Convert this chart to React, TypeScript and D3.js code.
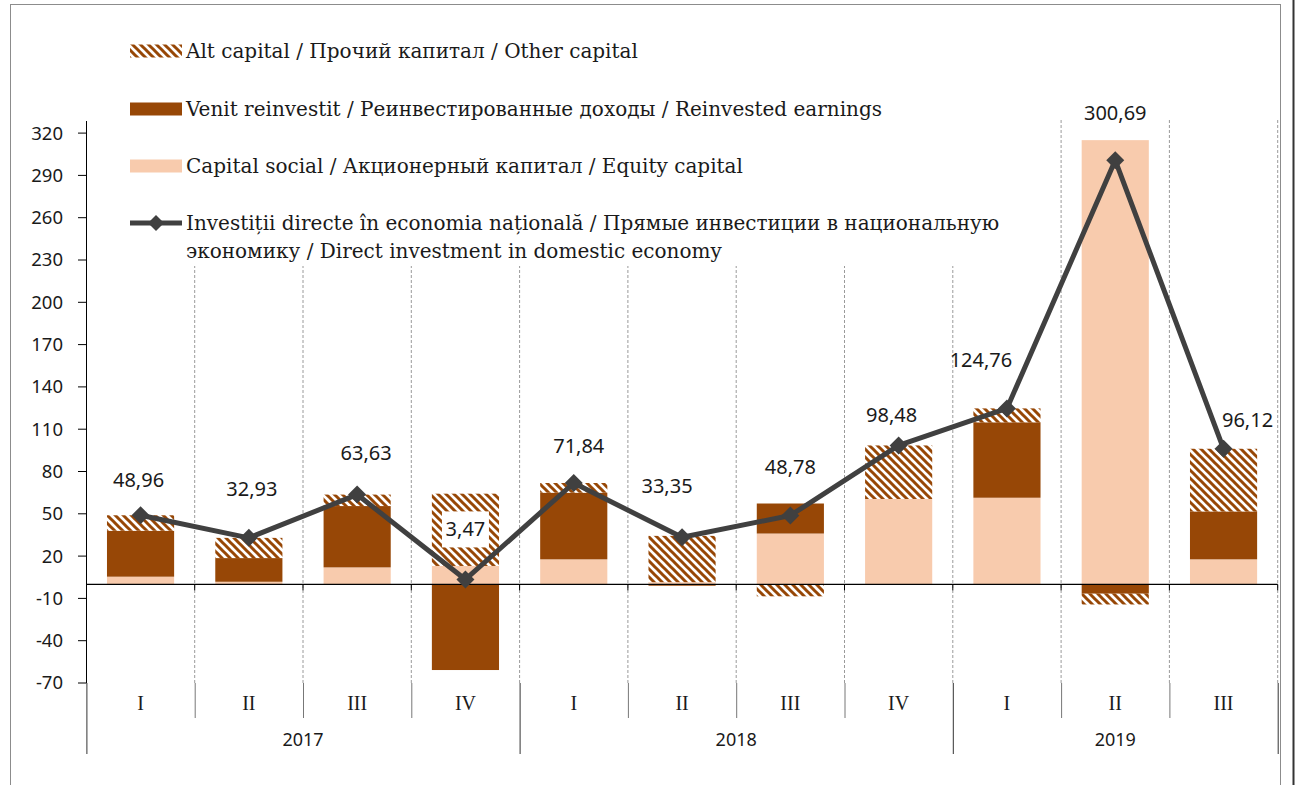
import React from 'react'
import * as d3 from 'd3'

// quarters on the category axis, grouped by year
const quarters = ['I', 'II', 'III', 'IV', 'I', 'II', 'III', 'IV', 'I', 'II', 'III']
const years = ['2017', '2018', '2019']
const quartersPerYear = [4, 4, 3]

// components, mil. USD
const equityCapital = [5.4, 1.8, 12.0, 13.0, 17.7, 1.5, 36.0, 60.5, 61.4, 315.0, 17.7]
const reinvestedEarnings = [32.6, 16.8, 43.5, -60.8, 47.3, -1.0, 21.3, 0, 53.5, -6.7, 34.0]
const otherCapital = [10.96, 14.33, 8.13, 51.27, 6.84, 32.85, -8.52, 37.98, 9.86, -7.61, 44.42]
const directInvestment = [48.96, 32.93, 63.63, 3.47, 71.84, 33.35, 48.78, 98.48, 124.76, 300.69, 96.12]

const yTicks = [-70, -40, -10, 20, 50, 80, 110, 140, 170, 200, 230, 260, 290, 320]

// label nudges relative to the marker (hand placed in the original)
const labelDx = [-2, 3, 9, 0, 5, -15, 0, -7, -26, 0, 24]
const labelDy = [-35, -49, -42, -50, -37, -51, -49, -30, -48, -47, -29]

const W = 1295
const H = 785
const PEACH = '#F8CBAD'
const BROWN = '#974706'
const LINE = '#404040'
const SANS = '"Noto Sans", "Open Sans", sans-serif'
const SERIF = '"DejaVu Serif", "Liberation Serif", serif'

const fmt = d3.formatLocale({ decimal: ',', thousands: ' ', grouping: [3], currency: ['', ''] }).format('.2f')

export default function App() {
  const x = d3
    .scaleBand<number>()
    .domain(d3.range(quarters.length))
    .range([86.4, 1277.7])
    .paddingInner(0.38)
    .paddingOuter(0.19)
  const y = d3.scaleLinear().domain([-70, 330]).range([683, 119])
  const step = x.step()
  const x0 = x.range()[0]
  const x1 = x.range()[1]

  const rows = quarters.map((q, i) => ({
    equity: equityCapital[i],
    reinvested: reinvestedEarnings[i],
    other: otherCapital[i],
  }))
  const series = d3
    .stack<any>()
    .keys(['equity', 'reinvested', 'other'])
    .offset(d3.stackOffsetDiverging)(rows)
  const fills: Record<string, string> = { equity: PEACH, reinvested: BROWN, other: 'url(#hatch)' }

  const cx = (i: number) => (x(i) as number) + x.bandwidth() / 2
  const line = d3
    .line<number>()
    .x((d, i) => cx(i))
    .y((d) => y(d))

  const diamond = (px: number, py: number, r: number) =>
    `M${px},${py - r}L${px + r},${py}L${px},${py + r}L${px - r},${py}Z`

  let yearStart = 0
  const yearBlocks = years.map((yr, k) => {
    const a = x0 + yearStart * step
    const b = a + quartersPerYear[k] * step
    yearStart += quartersPerYear[k]
    return { yr, a, b }
  })

  const legendItems = [
    { kind: 'hatch', lines: ['Alt capital / Прочий капитал / Other capital'], cy: 51 },
    { kind: 'brown', lines: ['Venit reinvestit / Реинвестированные доходы / Reinvested earnings'], cy: 109 },
    { kind: 'peach', lines: ['Capital social / Акционерный капитал / Equity capital'], cy: 166 },
    {
      kind: 'line',
      lines: [
        'Investiții directe în economia națională / Прямые инвестиции в национальную',
        'экономику / Direct investment in domestic economy',
      ],
      cy: 223,
    },
  ]

  return (
    <svg
      width={W}
      height={H}
      style={{ position: 'absolute', left: 0, top: 0, background: '#fff' }}
    >
      <defs>
        <pattern id="hatch" width={8} height={8} patternUnits="userSpaceOnUse">
          <rect width={8} height={8} fill="#fff" />
          <path d="M-2,-2L10,10M-6,2L2,10M2,-6L10,2" stroke={BROWN} strokeWidth={3} />
        </pattern>
      </defs>

      {/* outer frame */}
      <rect x={10.5} y={4.5} width={1270} height={H + 20} fill="none" stroke="#8c8c8c" />
      <line x1={1293.5} x2={1293.5} y1={0} y2={H} stroke="#333" strokeWidth={2} />

      {/* dashed category separators */}
      {d3.range(1, quarters.length + 1).map((i) => (
        <line
          key={`g${i}`}
          x1={x0 + i * step}
          x2={x0 + i * step}
          y1={120}
          y2={683}
          stroke="#9a9a9a"
          strokeDasharray="3,2"
        />
      ))}

      {/* bars */}
      {series.map((s) =>
        s.map((d, i) => {
          const top = y(Math.max(d[0], d[1]))
          const bot = y(Math.min(d[0], d[1]))
          if (bot - top < 0.01) return null
          return (
            <rect
              key={`${s.key}${i}`}
              x={x(i)}
              y={top}
              width={x.bandwidth()}
              height={bot - top}
              fill={fills[s.key]}
            />
          )
        })
      )}

      {/* zero line and ticks */}
      <line x1={x0} x2={x1} y1={y(0)} y2={y(0)} stroke="#000" strokeWidth={1.3} />
      {d3.range(1, quarters.length + 1).map((i) => (
        <line key={`zt${i}`} x1={x0 + i * step} x2={x0 + i * step} y1={y(0)} y2={y(0) + 6} stroke="#000" />
      ))}

      {/* y axis */}
      <line x1={86.5} x2={86.5} y1={121} y2={683} stroke="#000" />
      {yTicks.map((t) => (
        <g key={t}>
          <line x1={78} x2={86.5} y1={y(t)} y2={y(t)} stroke="#000" />
          <text
            x={63}
            y={y(t)}
            dy="0.35em"
            textAnchor="end"
            fontFamily={SANS}
            fontSize={18.5}
            fill="#1a1a1a"
          >
            {t}
          </text>
        </g>
      ))}

      {/* category axis */}
      {d3.range(0, quarters.length + 1).map((i) => {
        const isYear = [0, 4, 8, 11].includes(i)
        return (
          <line
            key={`c${i}`}
            x1={x0 + i * step + 0.5}
            x2={x0 + i * step + 0.5}
            y1={683}
            y2={isYear ? 754 : 718}
            stroke={isYear ? '#333' : '#777'}
          />
        )
      })}
      {quarters.map((q, i) => (
        <text
          key={`q${i}`}
          x={cx(i)}
          y={703}
          dy="0.35em"
          textAnchor="middle"
          fontFamily='"Liberation Serif", serif'
          fontSize={20}
          fill="#1a1a1a"
        >
          {q}
        </text>
      ))}
      {yearBlocks.map((b) => (
        <text
          key={b.yr}
          x={(b.a + b.b) / 2}
          y={740}
          dy="0.35em"
          textAnchor="middle"
          fontFamily={SANS}
          fontSize={18}
          fill="#1a1a1a"
        >
          {b.yr}
        </text>
      ))}

      {/* legend */}
      <rect x={118} y={28} width={898} height={238} fill="#fff" />
      {legendItems.map((it) => (
        <g key={it.kind}>
          {it.kind === 'line' ? (
            <g>
              <line x1={130} x2={182} y1={it.cy} y2={it.cy} stroke={LINE} strokeWidth={5} />
              <path d={diamond(156, it.cy, 8)} fill={LINE} />
            </g>
          ) : (
            <rect
              x={130}
              y={it.cy - 6.5}
              width={52}
              height={13}
              fill={it.kind === 'hatch' ? 'url(#hatch)' : it.kind === 'brown' ? BROWN : PEACH}
            />
          )}
          {it.lines.map((l, k) => (
            <text
              key={k}
              x={186}
              y={it.cy + k * 28}
              dy="0.35em"
              fontFamily={SERIF}
              fontSize={20}
              fill="#1a1a1a"
            >
              {l}
            </text>
          ))}
        </g>
      ))}

      {/* direct investment line */}
      <path
        d={line(directInvestment) as string}
        fill="none"
        stroke={LINE}
        strokeWidth={5}
        strokeLinejoin="round"
      />
      {directInvestment.map((v, i) => (
        <path key={`m${i}`} d={diamond(cx(i), y(v), 9)} fill={LINE} />
      ))}

      {/* value labels */}
      {directInvestment.map((v, i) => {
        const lx = cx(i) + labelDx[i]
        const ly = y(v) + labelDy[i]
        const boxed = v < 10
        return (
          <g key={`l${i}`}>
            {boxed && <rect x={lx - 23.5} y={ly - 18} width={47} height={36} fill="#fff" />}
            <text
              x={lx}
              y={ly}
              dy="0.35em"
              textAnchor="middle"
              fontFamily={SANS}
              fontSize={20}
              fill="#1a1a1a"
            >
              {fmt(v)}
            </text>
          </g>
        )
      })}
    </svg>
  )
}
